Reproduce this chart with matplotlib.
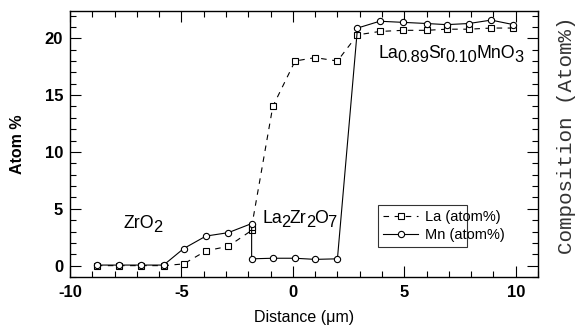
import matplotlib
matplotlib.use("Agg")
import matplotlib.pyplot as plt
from matplotlib.ticker import MultipleLocator

plt.rcParams['font.family'] = ['Liberation Sans', 'DejaVu Sans']
plt.rcParams['axes.unicode_minus'] = False

# La (atom%) - dashed, squares
la_x = [-8.8, -7.8, -6.8, -5.8, -4.9, -3.9, -2.9, -1.85, -1.85, -0.9, 0.1, 1.0, 2.0, 2.9, 3.9, 4.95, 6.0, 6.9, 7.9, 8.9, 9.9]
la_y = [0.0, 0.0, 0.0, 0.0, 0.15, 1.3, 1.7, 3.1, 3.4, 14.0, 18.0, 18.3, 18.0, 20.3, 20.6, 20.7, 20.7, 20.8, 20.8, 20.9, 20.9]

# Mn (atom%) - solid, circles
mn_x = [-8.8, -7.8, -6.8, -5.8, -4.9, -3.9, -2.9, -1.85, -1.85, -0.9, 0.1, 1.0, 2.0, 2.9, 3.9, 4.95, 6.0, 6.9, 7.9, 8.9, 9.9]
mn_y = [0.05, 0.05, 0.05, 0.05, 1.5, 2.6, 2.9, 3.7, 0.6, 0.65, 0.65, 0.55, 0.6, 20.9, 21.5, 21.4, 21.3, 21.2, 21.3, 21.6, 21.2]

x_ticks = [-10, -5, 0, 5, 10]
y_ticks = [0, 5, 10, 15, 20]

fig = plt.figure(figsize=(5.77, 3.29), dpi=100)
ax = fig.add_axes([70/577, 1-277/329, (538-70)/577, (277-11)/329])

ax.plot(la_x, la_y, linestyle=(0, (5, 5)), color='black', linewidth=0.8,
        marker='s', markersize=4, markerfacecolor='white', markeredgewidth=0.8,
        label='La (atom%)')
ax.plot(mn_x, mn_y, linestyle='-', color='black', linewidth=0.8,
        marker='o', markersize=4.5, markerfacecolor='white', markeredgewidth=0.8,
        label='Mn (atom%)')

ax.set_xlim(-10, 11)
ax.set_ylim(-1, 22.4)
ax.set_xticks(x_ticks)
ax.set_yticks(y_ticks)
ax.xaxis.set_minor_locator(MultipleLocator(1))
ax.yaxis.set_minor_locator(MultipleLocator(1))
ax.tick_params(which='both', direction='in', top=True, right=True, width=0.8)
ax.tick_params(which='major', length=8, labelsize=12)
ax.tick_params(axis='x', which='major', pad=6)
ax.tick_params(axis='y', which='major', pad=5)
ax.tick_params(which='minor', length=4)
for lab in ax.get_xticklabels() + ax.get_yticklabels():
    lab.set_fontweight('bold')
for s in ax.spines.values():
    s.set_linewidth(1.0)

ax.set_xlabel('Distance (\u03bcm)', fontsize=11.5, labelpad=7)
ax.set_ylabel('Atom %', fontsize=11.5, fontweight='bold', labelpad=14)


def chem_label(x, y, parts, size=12.8, subsize=11.8, drop=2.4, kern=-0.5):
    """parts: list of (string, is_subscript)."""
    prev = None
    prev_sub = False
    for s, sub in parts:
        fs = subsize if sub else size
        if prev is None:
            prev = ax.text(x, y, s, fontsize=fs, ha='left', va='baseline')
        else:
            dy = 0
            if sub and not prev_sub:
                dy = -drop
            elif prev_sub and not sub:
                dy = drop
            prev = ax.annotate(s, xy=(1, 0), xycoords=prev, xytext=(kern, dy),
                               textcoords='offset points', fontsize=fs,
                               ha='left', va='bottom')
        prev_sub = sub


chem_label(-7.62, 3.3, [('ZrO', False), ('2', True)])
chem_label(-1.38, 3.75, [('La', False), ('2', True), ('Zr', False), ('2', True), ('O', False), ('7', True)])
chem_label(3.83, 18.28, [('La', False), ('0.89', True), ('Sr', False), ('0.10', True), ('MnO', False), ('3', True)])

leg = ax.legend(loc='lower left', bbox_to_anchor=((378-70)/468, (277-247)/266, (467-378)/468, (247-203)/266),
                mode='expand', fontsize=10.5, frameon=True, fancybox=False, edgecolor='black',
                handlelength=2.4, borderpad=0.35, labelspacing=0.25, handletextpad=0.5, borderaxespad=0)
leg.get_frame().set_linewidth(0.8)

fig.text(576/577, 1-135/329, 'Composition (Atom%)', rotation=90, fontsize=15,
         family='Liberation Mono', color='#333333', ha='right', va='center')

fig.savefig('out.png', dpi=100)
